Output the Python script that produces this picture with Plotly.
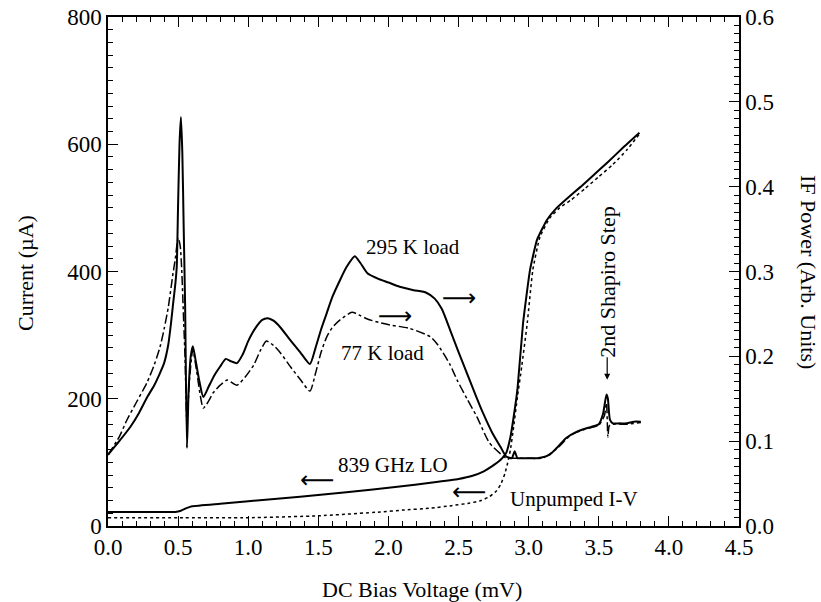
import plotly.graph_objects as go

# ---- data ----
# IF power, 295 K load (right axis, arb. units)
v_295 = [0.00, 0.08, 0.16, 0.22, 0.28, 0.33, 0.37, 0.40, 0.43, 0.45, 0.465, 0.48, 0.49, 0.50, 0.51,
         0.52, 0.53, 0.54, 0.55, 0.563, 0.575, 0.59, 0.605, 0.62, 0.65, 0.68, 0.72, 0.76, 0.80, 0.84,
         0.88, 0.92, 0.96, 1.00, 1.05, 1.10, 1.14, 1.18, 1.23, 1.30, 1.37, 1.44, 1.48, 1.52, 1.56,
         1.60, 1.655, 1.70, 1.76, 1.80, 1.85, 1.92, 2.00, 2.08, 2.18, 2.27, 2.33, 2.38, 2.44, 2.50,
         2.56, 2.62, 2.675, 2.74, 2.80, 2.84, 2.88, 2.90, 2.92, 2.94, 3.00, 3.06, 3.10, 3.15, 3.20,
         3.27, 3.33, 3.39, 3.45, 3.50, 3.53, 3.555, 3.565, 3.58, 3.60, 3.65, 3.70, 3.75, 3.80]
p_295 = [0.084, 0.100, 0.117, 0.133, 0.152, 0.166, 0.180, 0.192, 0.214, 0.240, 0.263, 0.285, 0.305, 0.380, 0.450,
         0.482, 0.440, 0.350, 0.260, 0.092, 0.160, 0.200, 0.212, 0.200, 0.172, 0.152, 0.165, 0.178, 0.188, 0.197,
         0.194, 0.192, 0.202, 0.218, 0.233, 0.243, 0.245, 0.242, 0.234, 0.219, 0.205, 0.191, 0.210, 0.232, 0.251,
         0.270, 0.290, 0.305, 0.318, 0.310, 0.298, 0.292, 0.287, 0.282, 0.278, 0.275, 0.268, 0.256, 0.231, 0.205,
         0.180, 0.155, 0.133, 0.110, 0.093, 0.082, 0.080, 0.088, 0.080, 0.080, 0.080, 0.080, 0.081, 0.084, 0.092,
         0.104, 0.110, 0.114, 0.117, 0.120, 0.132, 0.155, 0.150, 0.125, 0.121, 0.121, 0.121, 0.123, 0.123]

# IF power, 77 K load (right axis)
v_77 = [0.00, 0.08, 0.135, 0.20, 0.278, 0.33, 0.371, 0.40, 0.43, 0.464, 0.48, 0.50, 0.515, 0.525, 0.54,
        0.55, 0.563, 0.58, 0.605, 0.63, 0.68, 0.72, 0.75, 0.80, 0.85, 0.92, 0.98, 1.04, 1.09, 1.13,
        1.18, 1.23, 1.30, 1.37, 1.44, 1.48, 1.52, 1.56, 1.60, 1.655, 1.74, 1.80, 1.85, 1.93, 2.01,
        2.15, 2.30, 2.35, 2.39, 2.44, 2.49, 2.56, 2.63, 2.72, 2.80, 2.84, 2.88, 3.00, 3.10, 3.20,
        3.30, 3.40, 3.50, 3.54, 3.555, 3.565, 3.575, 3.60, 3.70, 3.80]
p_77 = [0.084, 0.105, 0.125, 0.145, 0.169, 0.190, 0.211, 0.232, 0.258, 0.298, 0.315, 0.340, 0.330, 0.305, 0.240,
        0.196, 0.120, 0.170, 0.208, 0.185, 0.139, 0.148, 0.157, 0.166, 0.172, 0.166, 0.176, 0.190, 0.208, 0.218,
        0.213, 0.204, 0.188, 0.173, 0.159, 0.180, 0.205, 0.223, 0.234, 0.243, 0.252, 0.248, 0.244, 0.240, 0.237,
        0.233, 0.223, 0.214, 0.204, 0.190, 0.172, 0.150, 0.129, 0.098, 0.085, 0.080, 0.080, 0.080, 0.080, 0.091,
        0.107, 0.114, 0.119, 0.130, 0.145, 0.105, 0.118, 0.120, 0.120, 0.122]

# Pumped I-V, 839 GHz LO (left axis, uA)
v_lo = [0.00, 0.20, 0.40, 0.48, 0.52, 0.56, 0.60, 0.80, 1.00, 1.37, 1.70, 2.08, 2.30, 2.50, 2.60,
        2.68, 2.74, 2.80, 2.84, 2.87, 2.89, 2.92, 2.96, 3.01, 3.06, 3.13, 3.20, 3.28, 3.37, 3.46,
        3.56, 3.67, 3.79]
i_lo = [22, 22, 22, 22, 24, 28, 31, 35, 39, 46, 53, 62, 68, 74, 79,
        86, 94, 104, 115, 140, 167, 215, 319, 403, 450, 481, 500, 516, 533, 551,
        571, 594, 618]

# Unpumped I-V (left axis, uA)
v_un = [0.00, 0.50, 1.00, 1.50, 1.94, 2.10, 2.30, 2.45, 2.58, 2.66, 2.72, 2.77, 2.80, 2.83, 2.85,
        2.87, 2.89, 2.92, 2.95, 2.99, 3.03, 3.08, 3.15, 3.22, 3.30, 3.40, 3.50, 3.60, 3.70, 3.79]
i_un = [13, 13, 13, 16, 22, 25, 28, 32, 36, 40, 46, 55, 65, 82, 99,
        120, 151, 203, 250, 319, 403, 454, 484, 500, 512, 530, 549, 568, 591, 616]

x_ticks = [0.0, 0.5, 1.0, 1.5, 2.0, 2.5, 3.0, 3.5, 4.0, 4.5]
y_ticks = [0, 200, 400, 600, 800]
y2_ticks = [0.0, 0.1, 0.2, 0.3, 0.4, 0.5, 0.6]

FONT = "Liberation Serif"
W, H = 821, 602
ML, MR, MT, MB = 108, 82, 17, 76
PW, PH = W - ML - MR, H - MT - MB

fig = go.Figure()
fig.add_trace(go.Scatter(x=v_lo, y=i_lo, mode="lines",
                         line=dict(color="black", width=2, shape="spline", smoothing=0.4),
                         name="839 GHz LO", showlegend=False))
fig.add_trace(go.Scatter(x=v_un, y=i_un, mode="lines",
                         line=dict(color="black", width=1.5, dash="dot", shape="spline", smoothing=0.4),
                         name="Unpumped I-V", showlegend=False))
fig.add_trace(go.Scatter(x=v_295, y=p_295, mode="lines",
                         line=dict(color="black", width=2, shape="spline", smoothing=0.6),
                         name="295 K load", yaxis="y2", showlegend=False))
fig.add_trace(go.Scatter(x=v_77, y=p_77, mode="lines",
                         line=dict(color="black", width=1.5, dash="dashdot", shape="spline", smoothing=0.6),
                         name="77 K load", yaxis="y2", showlegend=False))

axis_common = dict(showline=True, linecolor="black", linewidth=1.5, ticks="inside",
                   tickcolor="black", tickwidth=1.2, showgrid=False, zeroline=False,
                   automargin=False, ticklabeloverflow="allow",
                   tickfont=dict(family=FONT, size=23, color="black"))

fig.update_layout(
    width=W, height=H,
    margin=dict(l=ML, r=MR, t=MT, b=MB),
    paper_bgcolor="white", plot_bgcolor="white",
    font=dict(family=FONT, color="black"),
    xaxis=dict(range=[0, 4.5], tickvals=x_ticks, ticktext=[f"{t:.1f}" for t in x_ticks],
               ticklen=10, mirror="ticks",
               minor=dict(dtick=0.1, ticklen=5, ticks="inside", tickcolor="black", showgrid=False),
               **axis_common),
    yaxis=dict(range=[0, 800], tickvals=y_ticks, ticklen=10,
               minor=dict(dtick=20, ticklen=5, ticks="inside", tickcolor="black", showgrid=False),
               **axis_common),
    yaxis2=dict(range=[0, 0.6], tickvals=y2_ticks, ticktext=[f"{t:.1f}" for t in y2_ticks],
                overlaying="y", side="right", ticklen=10,
                minor=dict(dtick=0.01, ticklen=5, ticks="inside", tickcolor="black", showgrid=False),
                **axis_common),
)

def paper_text(text, px, py, size=22, angle=0):
    # px, py: page pixel position of the text centre
    fig.add_annotation(x=(px - ML) / PW, y=((H - MB) - py) / PH,
                       xref="paper", yref="paper", text=text,
                       showarrow=False, xanchor="center", yanchor="middle", textangle=angle,
                       font=dict(family=FONT, size=size, color="black"))

# axis titles placed in page pixels
paper_text("DC Bias Voltage (mV)", 422, 589, size=22)
paper_text("Current (µA)", 25, 273, size=22, angle=-90)
paper_text("IF Power (Arb. Units)", 809, 272, size=22, angle=90)

def label(text, x, y, size=21, angle=0, family=FONT):
    fig.add_annotation(x=x, y=y, xref="x", yref="y", text=text, showarrow=False,
                       font=dict(family=family, size=size, color="black"), textangle=angle)

label("295 K load", 2.175, 439)
label("77 K load", 1.96, 272)
label("839 GHz LO", 2.03, 96)
label("Unpumped I-V", 3.32, 42)
label("⟶", 2.50, 358, size=24, family="DejaVu Sans")
label("⟶", 2.05, 330, size=24, family="DejaVu Sans")
label("⟵", 1.49, 72, size=24, family="DejaVu Sans")
label("⟵", 2.575, 53, size=24, family="DejaVu Sans")
label("2nd Shapiro Step", 3.567, 384, size=22, angle=-90)
fig.add_annotation(x=3.56, y=230, xref="x", yref="y", ax=0, ay=-24, showarrow=True,
                   arrowhead=2, arrowsize=1, arrowwidth=1.2, arrowcolor="black", text="")

fig.write_html("out.html", config={"displayModeBar": False},
               post_script="document.body.style.margin='0px';")
